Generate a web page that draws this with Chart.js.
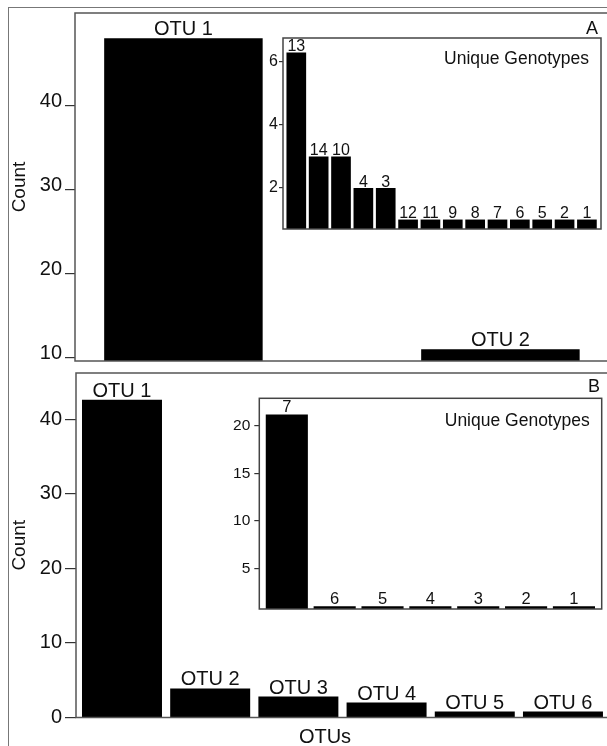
<!DOCTYPE html>
<html>
<head>
<meta charset="utf-8">
<script src="https://cdn.jsdelivr.net/npm/chart.js@4"></script>
<style>
  html, body { margin: 0; padding: 0; width: 607px; height: 746px; overflow: hidden; background: #fff; }
  #outer { position: absolute; left: 8px; top: 7px; width: 640px; height: 780px;
           border-left: 1.5px solid #777; border-top: 1.5px solid #777; }
  canvas { position: absolute; }
</style>
</head>
<body>
<div id="outer"></div>
<canvas id="mainA" width="615" height="366" style="left:0;top:0"></canvas>
<canvas id="insetA" width="352" height="210" style="left:255px;top:28px"></canvas>
<canvas id="mainB" width="615" height="380" style="left:0;top:366px"></canvas>
<canvas id="insetB" width="385" height="232" style="left:222px;top:388px"></canvas>
<script>
/* panel A */
const otusA = ['OTU 1', 'OTU 2'];
const countsA = [48, 11];
const ticksA = [10, 20, 30, 40];
const genotypesA = ['13', '14', '10', '4', '3', '12', '11', '9', '8', '7', '6', '5', '2', '1'];
const genoCountsA = [6.3, 3, 3, 2, 2, 1, 1, 1, 1, 1, 1, 1, 1, 1];
const genoTicksA = [2, 4, 6];

/* panel B */
const otusB = ['OTU 1', 'OTU 2', 'OTU 3', 'OTU 4', 'OTU 5', 'OTU 6'];
const countsB = [42.6, 3.9, 2.8, 2.0, 0.8, 0.8];
const ticksB = [0, 10, 20, 30, 40];
const genotypesB = ['7', '6', '5', '4', '3', '2', '1'];
const genoCountsB = [21.2, 1, 1, 1, 1, 1, 1];
const genoTicksB = [5, 10, 15, 20];

const FONT = '"Liberation Sans", Arial, Helvetica, sans-serif';
Chart.defaults.font.family = FONT;
Chart.defaults.color = '#111';

// text above each bar
const barLabels = {
  id: 'barLabels',
  afterDatasetsDraw(chart, args, opts) {
    const { ctx } = chart;
    ctx.save();
    ctx.font = `${opts.size}px ${FONT}`;
    ctx.fillStyle = '#111';
    ctx.textAlign = 'center';
    ctx.textBaseline = 'alphabetic';
    chart.getDatasetMeta(0).data.forEach((bar, i) => {
      ctx.fillText(opts.labels[i], bar.x, bar.y - opts.gap);
    });
    ctx.restore();
  }
};

// box around the plot area + loose texts
const frame = {
  id: 'frame',
  afterDraw(chart, args, opts) {
    const { ctx, chartArea: a } = chart;
    ctx.save();
    ctx.strokeStyle = opts.color;
    ctx.lineWidth = opts.width;
    ctx.strokeRect(a.left, a.top, a.right - a.left, a.bottom - a.top);
    ctx.fillStyle = '#111';
    ctx.textBaseline = 'alphabetic';
    (opts.notes || []).forEach((n) => {
      const x = n.from.includes('right') ? a.right + n.dx : a.left + n.dx;
      const y = n.from.includes('bottom') ? a.bottom + n.dy : a.top + n.dy;
      ctx.font = `${n.size}px ${FONT}`;
      ctx.textAlign = n.align;
      ctx.fillText(n.text, x, y);
    });
    ctx.restore();
  }
};

function barChart(id, o) {
  return new Chart(document.getElementById(id), {
    type: 'bar',
    data: {
      datasets: [{
        data: o.values.map((v, i) => ({ x: i, y: v })),
        backgroundColor: '#000',
        borderWidth: 0,
        barPercentage: o.barPct,
        categoryPercentage: 1,
        clip: 0,
      }],
    },
    options: {
      responsive: false,
      animation: false,
      devicePixelRatio: 1,
      layout: { padding: o.pad },
      plugins: {
        legend: { display: false },
        tooltip: { enabled: false },
        barLabels: { labels: o.labels, size: o.labelSize, gap: o.labelGap },
        frame: { color: o.frameColor, width: 1.5, notes: o.notes },
      },
      scales: {
        x: {
          type: 'linear', min: o.xMin, max: o.xMax, offset: false,
          ticks: { display: false }, grid: { display: false, offset: false }, border: { display: false },
          afterBuildTicks: (s) => { s.ticks = o.values.map((v, i) => ({ value: i })); },
          afterFit: (s) => { s.height = 0; s.paddingLeft = 0; s.paddingRight = 0; },
        },
        y: {
          min: o.yMin, max: o.yMax,
          afterBuildTicks: (s) => { s.ticks = o.ticks.map((v) => ({ value: v })); },
          ticks: {
            padding: o.tickPad,
            font: { size: o.tickSize, lineHeight: o.tickLine || 1.2 },
            color: '#111',
            callback: o.raise ? (v) => [String(v), ''] : (v) => String(v),
          },
          grid: { drawOnChartArea: false, drawTicks: true, tickLength: o.tickLen, color: '#333', lineWidth: 1.2 },
          border: { display: false },
          title: o.title
            ? { display: true, text: o.title, font: { size: 19 }, color: '#111', padding: { top: 8, bottom: 0 } }
            : { display: false },
          afterFit: (s) => { s.width = o.axisW; s.paddingTop = 0; s.paddingBottom = 0; },
        },
      },
    },
    plugins: [barLabels, frame],
  });
}

barChart('mainA', {
  values: countsA, labels: otusA, ticks: ticksA,
  xMin: -0.342, xMax: 1.352, barPct: 0.5,
  yMin: 9.6, yMax: 51,
  pad: { left: 0, top: 13, right: 3, bottom: 5 }, axisW: 75,
  tickSize: 20, tickPad: 3, tickLen: 10, raise: true, tickLine: 0.4,
  title: 'Count', labelSize: 20, labelGap: 3.5, frameColor: '#555',
  notes: [{ text: 'A', size: 18, align: 'right', from: 'topright', dx: -14, dy: 20.5 }],
});

barChart('insetA', {
  values: genoCountsA, labels: genotypesA, ticks: genoTicksA,
  xMin: -0.595, xMax: 13.63, barPct: 0.88,
  yMin: 0.7, yMax: 6.76,
  pad: { left: 0, top: 10, right: 6, bottom: 9 }, axisW: 28,
  tickSize: 16, tickPad: 1, tickLen: 4,
  labelSize: 16, labelGap: 1.5, frameColor: '#444',
  notes: [{ text: 'Unique Genotypes', size: 17.5, align: 'right', from: 'topright', dx: -12, dy: 25.5 }],
});

barChart('mainB', {
  values: countsB, labels: otusB, ticks: ticksB,
  xMin: -0.5215, xMax: 5.556, barPct: 0.907,
  yMin: 0, yMax: 46.2,
  pad: { left: 0, top: 7, right: 3, bottom: 28.5 }, axisW: 76,
  tickSize: 20, tickPad: 3, tickLen: 11,
  title: 'Count', labelSize: 20, labelGap: 3, frameColor: '#555',
  notes: [
    { text: 'B', size: 18, align: 'right', from: 'topright', dx: -12, dy: 18.7 },
    { text: 'OTUs', size: 20, align: 'center', from: 'bottomleft', dx: 249, dy: 25.5 },
  ],
});

barChart('insetB', {
  values: genoCountsB, labels: genotypesB, ticks: genoTicksB,
  xMin: -0.575, xMax: 6.58, barPct: 0.88,
  yMin: 0.71, yMax: 22.9,
  pad: { left: 0, top: 10.3, right: 5.3, bottom: 11 }, axisW: 37.3,
  tickSize: 15.5, tickPad: 4, tickLen: 5,
  labelSize: 16.5, labelGap: 2, frameColor: '#444',
  notes: [{ text: 'Unique Genotypes', size: 17.5, align: 'right', from: 'topright', dx: -12, dy: 27.5 }],
});
</script>
</body>
</html>
